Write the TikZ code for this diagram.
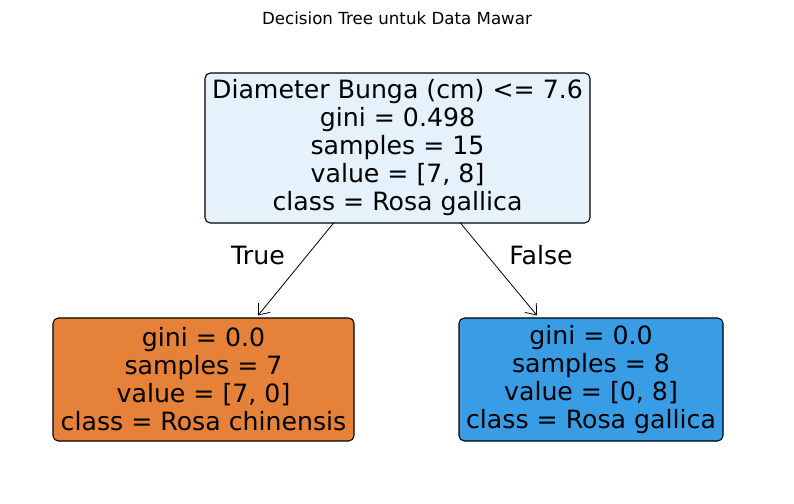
\documentclass[tikz,border=0pt]{standalone}
\usepackage{fontspec}
\setmainfont{DejaVu Sans}
\usetikzlibrary{calc,arrows.meta}

\definecolor{rootblue}{HTML}{E5F2FC}
\definecolor{leaforange}{HTML}{E58139}
\definecolor{leafblue}{HTML}{399DE5}

\tikzset{
  treenode/.style={draw=black, line width=0.8pt, rounded corners=4pt, align=center,
    inner sep=0pt, font=\fontsize{18.9pt}{21pt}\selectfont},
  branch/.style={-{Straight Barb[length=7pt,width=11pt]}, line width=0.6pt},
  edgelabel/.style={font=\fontsize{18.9pt}{21pt}\selectfont}
}

\begin{document}
\begin{tikzpicture}[x=0.75pt,y=-0.75pt]
\useasboundingbox (0,0) rectangle (794,504);

%judul
\node (title) at (397,18) {\fontsize{12.5pt}{15pt}\selectfont Decision Tree untuk Data Mawar};

%akar
\node[treenode, fill=rootblue, minimum width=288.75pt, minimum height=112.5pt] (root) at (397.5,148)
  {Diameter Bunga (cm) <= 7.6\\gini = 0.498\\samples = 15\\value = [7, 8]\\class = Rosa gallica};

%daun
\node[treenode, fill=leaforange, minimum width=225.75pt, minimum height=92.25pt] (left) at (203.5,379.5)
  {gini = 0.0\\samples = 7\\value = [7, 0]\\class = Rosa chinensis};
\node[treenode, fill=leafblue, minimum width=198pt, minimum height=92.25pt] (right) at (591,379.5)
  {gini = 0.0\\samples = 8\\value = [0, 8]\\class = Rosa gallica};

%cabang
\draw[branch] ($(root.south)+(-63.5,-1)$) -- ($(left.north)+(54.5,-2)$);
\draw[branch] ($(root.south)+(62.5,-1)$) -- ($(right.north)+(-54,-2)$);

\node[edgelabel] (true) at (258,255) {True};
\node[edgelabel] (false) at (541,255) {False};

\end{tikzpicture}
\end{document}
